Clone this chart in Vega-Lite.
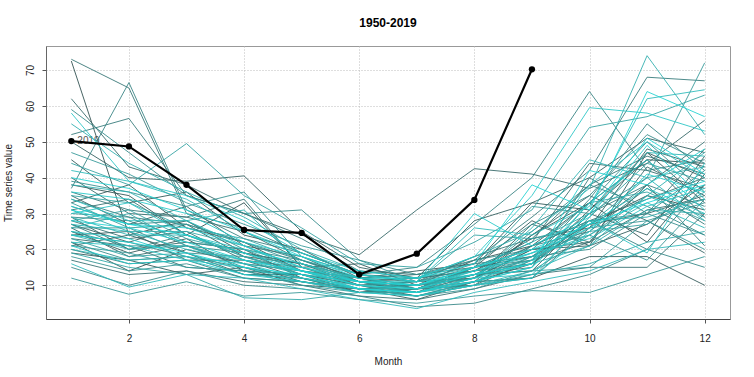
{
"$schema":"https://vega.github.io/schema/vega-lite/v6.json",
"width":684,"height":273,
"autosize":{"type":"none"},
"padding":{"left":46,"top":46,"right":24,"bottom":58},
"background":"white",
"config":{"font":"Liberation Sans","view":{"stroke":"#999","strokeWidth":1},
 "axis":{"grid":true,"gridColor":"#bdbdbd","gridDash":[1,2],"gridWidth":1,"tickColor":"#555","tickSize":4,"labelFont":"Liberation Sans","labelFontSize":10,"labelColor":"#222","titleFont":"Liberation Sans","titleFontSize":10,"titleFontWeight":"normal","titleColor":"#222","domainColor":"#555","labelFlush":false}},
"title":{"text":"1950-2019","fontSize":12,"fontWeight":"bold","font":"Liberation Sans","offset":16,"color":"#000"},
"datasets":{
"now":[{"yr":2019,"m":1,"v":50.2},{"yr":2019,"m":2,"v":48.7},{"yr":2019,"m":3,"v":38},{"yr":2019,"m":4,"v":25.4},{"yr":2019,"m":5,"v":24.6},{"yr":2019,"m":6,"v":13},{"yr":2019,"m":7,"v":18.8},{"yr":2019,"m":8,"v":33.8},{"yr":2019,"m":9,"v":70.2}],
"past":[
{"yr":1950,"m":1,"v":72.5},{"yr":1950,"m":2,"v":24},{"yr":1950,"m":3,"v":28},{"yr":1950,"m":4,"v":19},{"yr":1950,"m":5,"v":16},{"yr":1950,"m":6,"v":11},{"yr":1950,"m":7,"v":9},{"yr":1950,"m":8,"v":15},{"yr":1950,"m":9,"v":18},{"yr":1950,"m":10,"v":27},{"yr":1950,"m":11,"v":35},{"yr":1950,"m":12,"v":31},
{"yr":1951,"m":1,"v":22},{"yr":1951,"m":2,"v":14},{"yr":1951,"m":3,"v":20},{"yr":1951,"m":4,"v":16},{"yr":1951,"m":5,"v":11},{"yr":1951,"m":6,"v":9},{"yr":1951,"m":7,"v":10},{"yr":1951,"m":8,"v":12},{"yr":1951,"m":9,"v":24},{"yr":1951,"m":10,"v":33},{"yr":1951,"m":11,"v":22},{"yr":1951,"m":12,"v":41},
{"yr":1952,"m":1,"v":38},{"yr":1952,"m":2,"v":35},{"yr":1952,"m":3,"v":24},{"yr":1952,"m":4,"v":33},{"yr":1952,"m":5,"v":15},{"yr":1952,"m":6,"v":16},{"yr":1952,"m":7,"v":10},{"yr":1952,"m":8,"v":17},{"yr":1952,"m":9,"v":21},{"yr":1952,"m":10,"v":33},{"yr":1952,"m":11,"v":45},{"yr":1952,"m":12,"v":44},
{"yr":1953,"m":1,"v":25},{"yr":1953,"m":2,"v":19},{"yr":1953,"m":3,"v":23},{"yr":1953,"m":4,"v":14},{"yr":1953,"m":5,"v":13},{"yr":1953,"m":6,"v":8},{"yr":1953,"m":7,"v":9},{"yr":1953,"m":8,"v":11},{"yr":1953,"m":9,"v":16},{"yr":1953,"m":10,"v":31},{"yr":1953,"m":11,"v":45},{"yr":1953,"m":12,"v":29},
{"yr":1954,"m":1,"v":45},{"yr":1954,"m":2,"v":33},{"yr":1954,"m":3,"v":36},{"yr":1954,"m":4,"v":24},{"yr":1954,"m":5,"v":20},{"yr":1954,"m":6,"v":12},{"yr":1954,"m":7,"v":14},{"yr":1954,"m":8,"v":16},{"yr":1954,"m":9,"v":33},{"yr":1954,"m":10,"v":31},{"yr":1954,"m":11,"v":47},{"yr":1954,"m":12,"v":40},
{"yr":1955,"m":1,"v":19},{"yr":1955,"m":2,"v":17},{"yr":1955,"m":3,"v":13},{"yr":1955,"m":4,"v":15},{"yr":1955,"m":5,"v":10},{"yr":1955,"m":6,"v":9},{"yr":1955,"m":7,"v":6},{"yr":1955,"m":8,"v":11},{"yr":1955,"m":9,"v":12},{"yr":1955,"m":10,"v":18},{"yr":1955,"m":11,"v":18},{"yr":1955,"m":12,"v":10},
{"yr":1956,"m":1,"v":33},{"yr":1956,"m":2,"v":38},{"yr":1956,"m":3,"v":26},{"yr":1956,"m":4,"v":22},{"yr":1956,"m":5,"v":14},{"yr":1956,"m":6,"v":12},{"yr":1956,"m":7,"v":9},{"yr":1956,"m":8,"v":15},{"yr":1956,"m":9,"v":28},{"yr":1956,"m":10,"v":21},{"yr":1956,"m":11,"v":47},{"yr":1956,"m":12,"v":33},
{"yr":1957,"m":1,"v":27},{"yr":1957,"m":2,"v":22},{"yr":1957,"m":3,"v":27},{"yr":1957,"m":4,"v":18},{"yr":1957,"m":5,"v":16},{"yr":1957,"m":6,"v":10},{"yr":1957,"m":7,"v":11},{"yr":1957,"m":8,"v":12},{"yr":1957,"m":9,"v":20},{"yr":1957,"m":10,"v":21},{"yr":1957,"m":11,"v":27},{"yr":1957,"m":12,"v":38},
{"yr":1958,"m":1,"v":50},{"yr":1958,"m":2,"v":40},{"yr":1958,"m":3,"v":39},{"yr":1958,"m":4,"v":40.5},{"yr":1958,"m":5,"v":25},{"yr":1958,"m":6,"v":15},{"yr":1958,"m":7,"v":12},{"yr":1958,"m":8,"v":28},{"yr":1958,"m":9,"v":33},{"yr":1958,"m":10,"v":40},{"yr":1958,"m":11,"v":51},{"yr":1958,"m":12,"v":47},
{"yr":1959,"m":1,"v":24},{"yr":1959,"m":2,"v":25},{"yr":1959,"m":3,"v":17},{"yr":1959,"m":4,"v":17},{"yr":1959,"m":5,"v":12},{"yr":1959,"m":6,"v":8},{"yr":1959,"m":7,"v":9},{"yr":1959,"m":8,"v":13},{"yr":1959,"m":9,"v":14},{"yr":1959,"m":10,"v":30},{"yr":1959,"m":11,"v":24},{"yr":1959,"m":12,"v":46},
{"yr":1960,"m":1,"v":35},{"yr":1960,"m":2,"v":27},{"yr":1960,"m":3,"v":32},{"yr":1960,"m":4,"v":21},{"yr":1960,"m":5,"v":18},{"yr":1960,"m":6,"v":11},{"yr":1960,"m":7,"v":12},{"yr":1960,"m":8,"v":14},{"yr":1960,"m":9,"v":23},{"yr":1960,"m":10,"v":26},{"yr":1960,"m":11,"v":48},{"yr":1960,"m":12,"v":43},
{"yr":1961,"m":1,"v":21},{"yr":1961,"m":2,"v":24},{"yr":1961,"m":3,"v":19},{"yr":1961,"m":4,"v":13},{"yr":1961,"m":5,"v":13},{"yr":1961,"m":6,"v":10},{"yr":1961,"m":7,"v":7},{"yr":1961,"m":8,"v":11},{"yr":1961,"m":9,"v":24},{"yr":1961,"m":10,"v":35},{"yr":1961,"m":11,"v":28},{"yr":1961,"m":12,"v":19},
{"yr":1962,"m":1,"v":29},{"yr":1962,"m":2,"v":20},{"yr":1962,"m":3,"v":22},{"yr":1962,"m":4,"v":20},{"yr":1962,"m":5,"v":12},{"yr":1962,"m":6,"v":9},{"yr":1962,"m":7,"v":10},{"yr":1962,"m":8,"v":14},{"yr":1962,"m":9,"v":16},{"yr":1962,"m":10,"v":27},{"yr":1962,"m":11,"v":30},{"yr":1962,"m":12,"v":35},
{"yr":1963,"m":1,"v":62},{"yr":1963,"m":2,"v":43},{"yr":1963,"m":3,"v":38},{"yr":1963,"m":4,"v":30},{"yr":1963,"m":5,"v":24},{"yr":1963,"m":6,"v":18.5},{"yr":1963,"m":7,"v":31},{"yr":1963,"m":8,"v":42.5},{"yr":1963,"m":9,"v":41},{"yr":1963,"m":10,"v":37},{"yr":1963,"m":11,"v":44},{"yr":1963,"m":12,"v":56},
{"yr":1964,"m":1,"v":26},{"yr":1964,"m":2,"v":18},{"yr":1964,"m":3,"v":21},{"yr":1964,"m":4,"v":16},{"yr":1964,"m":5,"v":14},{"yr":1964,"m":6,"v":11},{"yr":1964,"m":7,"v":8},{"yr":1964,"m":8,"v":12},{"yr":1964,"m":9,"v":27},{"yr":1964,"m":10,"v":22},{"yr":1964,"m":11,"v":43},{"yr":1964,"m":12,"v":35},
{"yr":1965,"m":1,"v":40},{"yr":1965,"m":2,"v":30},{"yr":1965,"m":3,"v":29},{"yr":1965,"m":4,"v":25},{"yr":1965,"m":5,"v":17},{"yr":1965,"m":6,"v":12},{"yr":1965,"m":7,"v":13},{"yr":1965,"m":8,"v":15},{"yr":1965,"m":9,"v":22},{"yr":1965,"m":10,"v":44},{"yr":1965,"m":11,"v":42},{"yr":1965,"m":12,"v":37},
{"yr":1966,"m":1,"v":23},{"yr":1966,"m":2,"v":21},{"yr":1966,"m":3,"v":15},{"yr":1966,"m":4,"v":14},{"yr":1966,"m":5,"v":11},{"yr":1966,"m":6,"v":8},{"yr":1966,"m":7,"v":9},{"yr":1966,"m":8,"v":10},{"yr":1966,"m":9,"v":17},{"yr":1966,"m":10,"v":22},{"yr":1966,"m":11,"v":38},{"yr":1966,"m":12,"v":50},
{"yr":1967,"m":1,"v":31},{"yr":1967,"m":2,"v":34},{"yr":1967,"m":3,"v":24},{"yr":1967,"m":4,"v":19},{"yr":1967,"m":5,"v":16},{"yr":1967,"m":6,"v":12},{"yr":1967,"m":7,"v":9},{"yr":1967,"m":8,"v":13},{"yr":1967,"m":9,"v":16},{"yr":1967,"m":10,"v":28},{"yr":1967,"m":11,"v":34},{"yr":1967,"m":12,"v":40},
{"yr":1968,"m":1,"v":17},{"yr":1968,"m":2,"v":13},{"yr":1968,"m":3,"v":14},{"yr":1968,"m":4,"v":11},{"yr":1968,"m":5,"v":10},{"yr":1968,"m":6,"v":7},{"yr":1968,"m":7,"v":6},{"yr":1968,"m":8,"v":9},{"yr":1968,"m":9,"v":13},{"yr":1968,"m":10,"v":15},{"yr":1968,"m":11,"v":15},{"yr":1968,"m":12,"v":30},
{"yr":1969,"m":1,"v":28},{"yr":1969,"m":2,"v":23},{"yr":1969,"m":3,"v":25},{"yr":1969,"m":4,"v":17},{"yr":1969,"m":5,"v":15},{"yr":1969,"m":6,"v":10},{"yr":1969,"m":7,"v":10},{"yr":1969,"m":8,"v":12},{"yr":1969,"m":9,"v":20},{"yr":1969,"m":10,"v":22},{"yr":1969,"m":11,"v":31},{"yr":1969,"m":12,"v":34},
{"yr":1970,"m":1,"v":73},{"yr":1970,"m":2,"v":65},{"yr":1970,"m":3,"v":30},{"yr":1970,"m":4,"v":26},{"yr":1970,"m":5,"v":19},{"yr":1970,"m":6,"v":13},{"yr":1970,"m":7,"v":11},{"yr":1970,"m":8,"v":18},{"yr":1970,"m":9,"v":23},{"yr":1970,"m":10,"v":38},{"yr":1970,"m":11,"v":46},{"yr":1970,"m":12,"v":41},
{"yr":1971,"m":1,"v":36},{"yr":1971,"m":2,"v":31},{"yr":1971,"m":3,"v":29},{"yr":1971,"m":4,"v":34},{"yr":1971,"m":5,"v":15},{"yr":1971,"m":6,"v":11},{"yr":1971,"m":7,"v":12},{"yr":1971,"m":8,"v":14},{"yr":1971,"m":9,"v":21},{"yr":1971,"m":10,"v":25},{"yr":1971,"m":11,"v":37},{"yr":1971,"m":12,"v":27},
{"yr":1972,"m":1,"v":20},{"yr":1972,"m":2,"v":16},{"yr":1972,"m":3,"v":17},{"yr":1972,"m":4,"v":12},{"yr":1972,"m":5,"v":11},{"yr":1972,"m":6,"v":9},{"yr":1972,"m":7,"v":7},{"yr":1972,"m":8,"v":10},{"yr":1972,"m":9,"v":12},{"yr":1972,"m":10,"v":26},{"yr":1972,"m":11,"v":38},{"yr":1972,"m":12,"v":21},
{"yr":1973,"m":1,"v":52},{"yr":1973,"m":2,"v":56.5},{"yr":1973,"m":3,"v":35},{"yr":1973,"m":4,"v":30},{"yr":1973,"m":5,"v":23},{"yr":1973,"m":6,"v":14},{"yr":1973,"m":7,"v":13},{"yr":1973,"m":8,"v":17},{"yr":1973,"m":9,"v":29},{"yr":1973,"m":10,"v":42},{"yr":1973,"m":11,"v":68},{"yr":1973,"m":12,"v":67},
{"yr":1974,"m":1,"v":27},{"yr":1974,"m":2,"v":20},{"yr":1974,"m":3,"v":24},{"yr":1974,"m":4,"v":18},{"yr":1974,"m":5,"v":13},{"yr":1974,"m":6,"v":10},{"yr":1974,"m":7,"v":8},{"yr":1974,"m":8,"v":13},{"yr":1974,"m":9,"v":15},{"yr":1974,"m":10,"v":40},{"yr":1974,"m":11,"v":30},{"yr":1974,"m":12,"v":48},
{"yr":1975,"m":1,"v":34},{"yr":1975,"m":2,"v":29},{"yr":1975,"m":3,"v":27},{"yr":1975,"m":4,"v":22},{"yr":1975,"m":5,"v":17},{"yr":1975,"m":6,"v":12},{"yr":1975,"m":7,"v":11},{"yr":1975,"m":8,"v":16},{"yr":1975,"m":9,"v":18},{"yr":1975,"m":10,"v":30},{"yr":1975,"m":11,"v":38},{"yr":1975,"m":12,"v":32},
{"yr":1976,"m":1,"v":24},{"yr":1976,"m":2,"v":22},{"yr":1976,"m":3,"v":18},{"yr":1976,"m":4,"v":15},{"yr":1976,"m":5,"v":12},{"yr":1976,"m":6,"v":9},{"yr":1976,"m":7,"v":9},{"yr":1976,"m":8,"v":10},{"yr":1976,"m":9,"v":21},{"yr":1976,"m":10,"v":28},{"yr":1976,"m":11,"v":20},{"yr":1976,"m":12,"v":38},
{"yr":1977,"m":1,"v":37},{"yr":1977,"m":2,"v":66.5},{"yr":1977,"m":3,"v":31},{"yr":1977,"m":4,"v":23},{"yr":1977,"m":5,"v":19},{"yr":1977,"m":6,"v":13},{"yr":1977,"m":7,"v":15},{"yr":1977,"m":8,"v":27},{"yr":1977,"m":9,"v":40},{"yr":1977,"m":10,"v":64},{"yr":1977,"m":11,"v":42},{"yr":1977,"m":12,"v":45},
{"yr":1978,"m":1,"v":29},{"yr":1978,"m":2,"v":28},{"yr":1978,"m":3,"v":21},{"yr":1978,"m":4,"v":19},{"yr":1978,"m":5,"v":13},{"yr":1978,"m":6,"v":11},{"yr":1978,"m":7,"v":8},{"yr":1978,"m":8,"v":15},{"yr":1978,"m":9,"v":17},{"yr":1978,"m":10,"v":34},{"yr":1978,"m":11,"v":55},{"yr":1978,"m":12,"v":42},
{"yr":1979,"m":1,"v":15},{"yr":1979,"m":2,"v":10},{"yr":1979,"m":3,"v":14},{"yr":1979,"m":4,"v":10},{"yr":1979,"m":5,"v":9},{"yr":1979,"m":6,"v":7},{"yr":1979,"m":7,"v":4},{"yr":1979,"m":8,"v":5},{"yr":1979,"m":9,"v":9},{"yr":1979,"m":10,"v":13},{"yr":1979,"m":11,"v":20},{"yr":1979,"m":12,"v":15},
{"yr":1980,"m":1,"v":32},{"yr":1980,"m":2,"v":27},{"yr":1980,"m":3,"v":28},{"yr":1980,"m":4,"v":20},{"yr":1980,"m":5,"v":17},{"yr":1980,"m":6,"v":11},{"yr":1980,"m":7,"v":10},{"yr":1980,"m":8,"v":13},{"yr":1980,"m":9,"v":21},{"yr":1980,"m":10,"v":28},{"yr":1980,"m":11,"v":30},{"yr":1980,"m":12,"v":42},
{"yr":1981,"m":1,"v":59},{"yr":1981,"m":2,"v":47},{"yr":1981,"m":3,"v":35},{"yr":1981,"m":4,"v":30},{"yr":1981,"m":5,"v":31},{"yr":1981,"m":6,"v":17},{"yr":1981,"m":7,"v":13},{"yr":1981,"m":8,"v":16},{"yr":1981,"m":9,"v":27},{"yr":1981,"m":10,"v":35},{"yr":1981,"m":11,"v":52},{"yr":1981,"m":12,"v":44},
{"yr":1982,"m":1,"v":22},{"yr":1982,"m":2,"v":17},{"yr":1982,"m":3,"v":18},{"yr":1982,"m":4,"v":13},{"yr":1982,"m":5,"v":12},{"yr":1982,"m":6,"v":8},{"yr":1982,"m":7,"v":9},{"yr":1982,"m":8,"v":12},{"yr":1982,"m":9,"v":25},{"yr":1982,"m":10,"v":38},{"yr":1982,"m":11,"v":32},{"yr":1982,"m":12,"v":24},
{"yr":1983,"m":1,"v":26},{"yr":1983,"m":2,"v":26},{"yr":1983,"m":3,"v":19},{"yr":1983,"m":4,"v":18},{"yr":1983,"m":5,"v":14},{"yr":1983,"m":6,"v":10},{"yr":1983,"m":7,"v":8},{"yr":1983,"m":8,"v":11},{"yr":1983,"m":9,"v":18},{"yr":1983,"m":10,"v":20},{"yr":1983,"m":11,"v":30},{"yr":1983,"m":12,"v":24},
{"yr":1984,"m":1,"v":39},{"yr":1984,"m":2,"v":36},{"yr":1984,"m":3,"v":32},{"yr":1984,"m":4,"v":36},{"yr":1984,"m":5,"v":18},{"yr":1984,"m":6,"v":13},{"yr":1984,"m":7,"v":12},{"yr":1984,"m":8,"v":17},{"yr":1984,"m":9,"v":20},{"yr":1984,"m":10,"v":33},{"yr":1984,"m":11,"v":50},{"yr":1984,"m":12,"v":36},
{"yr":1985,"m":1,"v":18},{"yr":1985,"m":2,"v":14},{"yr":1985,"m":3,"v":16},{"yr":1985,"m":4,"v":12},{"yr":1985,"m":5,"v":11},{"yr":1985,"m":6,"v":9},{"yr":1985,"m":7,"v":7},{"yr":1985,"m":8,"v":9},{"yr":1985,"m":9,"v":14},{"yr":1985,"m":10,"v":24},{"yr":1985,"m":11,"v":17},{"yr":1985,"m":12,"v":34},
{"yr":1986,"m":1,"v":30},{"yr":1986,"m":2,"v":29},{"yr":1986,"m":3,"v":22},{"yr":1986,"m":4,"v":20},{"yr":1986,"m":5,"v":14},{"yr":1986,"m":6,"v":10},{"yr":1986,"m":7,"v":11},{"yr":1986,"m":8,"v":14},{"yr":1986,"m":9,"v":17},{"yr":1986,"m":10,"v":26},{"yr":1986,"m":11,"v":28},{"yr":1986,"m":12,"v":33},
{"yr":1987,"m":1,"v":12},{"yr":1987,"m":2,"v":7.5},{"yr":1987,"m":3,"v":11},{"yr":1987,"m":4,"v":7},{"yr":1987,"m":5,"v":8},{"yr":1987,"m":6,"v":6},{"yr":1987,"m":7,"v":5},{"yr":1987,"m":8,"v":7},{"yr":1987,"m":9,"v":8.5},{"yr":1987,"m":10,"v":8},{"yr":1987,"m":11,"v":13},{"yr":1987,"m":12,"v":18},
{"yr":1988,"m":1,"v":47},{"yr":1988,"m":2,"v":41},{"yr":1988,"m":3,"v":33},{"yr":1988,"m":4,"v":27},{"yr":1988,"m":5,"v":21},{"yr":1988,"m":6,"v":17},{"yr":1988,"m":7,"v":11},{"yr":1988,"m":8,"v":15},{"yr":1988,"m":9,"v":32},{"yr":1988,"m":10,"v":30},{"yr":1988,"m":11,"v":40},{"yr":1988,"m":12,"v":72},
{"yr":1989,"m":1,"v":25},{"yr":1989,"m":2,"v":21},{"yr":1989,"m":3,"v":21},{"yr":1989,"m":4,"v":15},{"yr":1989,"m":5,"v":12},{"yr":1989,"m":6,"v":9},{"yr":1989,"m":7,"v":10},{"yr":1989,"m":8,"v":13},{"yr":1989,"m":9,"v":14},{"yr":1989,"m":10,"v":15},{"yr":1989,"m":11,"v":28},{"yr":1989,"m":12,"v":20},
{"yr":1990,"m":1,"v":33},{"yr":1990,"m":2,"v":26},{"yr":1990,"m":3,"v":27},{"yr":1990,"m":4,"v":22},{"yr":1990,"m":5,"v":16},{"yr":1990,"m":6,"v":12},{"yr":1990,"m":7,"v":9},{"yr":1990,"m":8,"v":15},{"yr":1990,"m":9,"v":20},{"yr":1990,"m":10,"v":24},{"yr":1990,"m":11,"v":35},{"yr":1990,"m":12,"v":28},
{"yr":1991,"m":1,"v":21},{"yr":1991,"m":2,"v":19},{"yr":1991,"m":3,"v":15},{"yr":1991,"m":4,"v":14},{"yr":1991,"m":5,"v":10},{"yr":1991,"m":6,"v":8},{"yr":1991,"m":7,"v":8},{"yr":1991,"m":8,"v":11},{"yr":1991,"m":9,"v":12},{"yr":1991,"m":10,"v":29},{"yr":1991,"m":11,"v":44},{"yr":1991,"m":12,"v":39},
{"yr":1992,"m":1,"v":28},{"yr":1992,"m":2,"v":31},{"yr":1992,"m":3,"v":23},{"yr":1992,"m":4,"v":19},{"yr":1992,"m":5,"v":15},{"yr":1992,"m":6,"v":11},{"yr":1992,"m":7,"v":10},{"yr":1992,"m":8,"v":12},{"yr":1992,"m":9,"v":18},{"yr":1992,"m":10,"v":25},{"yr":1992,"m":11,"v":27},{"yr":1992,"m":12,"v":36},
{"yr":1993,"m":1,"v":44},{"yr":1993,"m":2,"v":38},{"yr":1993,"m":3,"v":49.5},{"yr":1993,"m":4,"v":35},{"yr":1993,"m":5,"v":26},{"yr":1993,"m":6,"v":16},{"yr":1993,"m":7,"v":15},{"yr":1993,"m":8,"v":22},{"yr":1993,"m":9,"v":31},{"yr":1993,"m":10,"v":54},{"yr":1993,"m":11,"v":57},{"yr":1993,"m":12,"v":63},
{"yr":1994,"m":1,"v":23},{"yr":1994,"m":2,"v":18},{"yr":1994,"m":3,"v":19},{"yr":1994,"m":4,"v":14},{"yr":1994,"m":5,"v":13},{"yr":1994,"m":6,"v":9},{"yr":1994,"m":7,"v":7},{"yr":1994,"m":8,"v":11},{"yr":1994,"m":9,"v":15},{"yr":1994,"m":10,"v":33},{"yr":1994,"m":11,"v":36},{"yr":1994,"m":12,"v":29},
{"yr":1995,"m":1,"v":35},{"yr":1995,"m":2,"v":33},{"yr":1995,"m":3,"v":26},{"yr":1995,"m":4,"v":23},{"yr":1995,"m":5,"v":17},{"yr":1995,"m":6,"v":13},{"yr":1995,"m":7,"v":11},{"yr":1995,"m":8,"v":24},{"yr":1995,"m":9,"v":23},{"yr":1995,"m":10,"v":27},{"yr":1995,"m":11,"v":40},{"yr":1995,"m":12,"v":43},
{"yr":1996,"m":1,"v":19},{"yr":1996,"m":2,"v":15},{"yr":1996,"m":3,"v":13},{"yr":1996,"m":4,"v":6.5},{"yr":1996,"m":5,"v":6},{"yr":1996,"m":6,"v":8},{"yr":1996,"m":7,"v":7},{"yr":1996,"m":8,"v":10},{"yr":1996,"m":9,"v":13},{"yr":1996,"m":10,"v":16},{"yr":1996,"m":11,"v":22},{"yr":1996,"m":12,"v":25},
{"yr":1997,"m":1,"v":31},{"yr":1997,"m":2,"v":25},{"yr":1997,"m":3,"v":25},{"yr":1997,"m":4,"v":21},{"yr":1997,"m":5,"v":14},{"yr":1997,"m":6,"v":12},{"yr":1997,"m":7,"v":10},{"yr":1997,"m":8,"v":13},{"yr":1997,"m":9,"v":17},{"yr":1997,"m":10,"v":28},{"yr":1997,"m":11,"v":29},{"yr":1997,"m":12,"v":34},
{"yr":1998,"m":1,"v":26},{"yr":1998,"m":2,"v":30},{"yr":1998,"m":3,"v":21},{"yr":1998,"m":4,"v":17},{"yr":1998,"m":5,"v":13},{"yr":1998,"m":6,"v":9},{"yr":1998,"m":7,"v":9},{"yr":1998,"m":8,"v":13},{"yr":1998,"m":9,"v":16},{"yr":1998,"m":10,"v":21},{"yr":1998,"m":11,"v":31},{"yr":1998,"m":12,"v":30},
{"yr":1999,"m":1,"v":55},{"yr":1999,"m":2,"v":44},{"yr":1999,"m":3,"v":36},{"yr":1999,"m":4,"v":29},{"yr":1999,"m":5,"v":20},{"yr":1999,"m":6,"v":14},{"yr":1999,"m":7,"v":12},{"yr":1999,"m":8,"v":18},{"yr":1999,"m":9,"v":25},{"yr":1999,"m":10,"v":37},{"yr":1999,"m":11,"v":74},{"yr":1999,"m":12,"v":52},
{"yr":2000,"m":1,"v":20},{"yr":2000,"m":2,"v":17},{"yr":2000,"m":3,"v":18},{"yr":2000,"m":4,"v":13},{"yr":2000,"m":5,"v":12},{"yr":2000,"m":6,"v":10},{"yr":2000,"m":7,"v":8},{"yr":2000,"m":8,"v":10},{"yr":2000,"m":9,"v":14},{"yr":2000,"m":10,"v":21},{"yr":2000,"m":11,"v":35},{"yr":2000,"m":12,"v":47},
{"yr":2001,"m":1,"v":38},{"yr":2001,"m":2,"v":36},{"yr":2001,"m":3,"v":28},{"yr":2001,"m":4,"v":31},{"yr":2001,"m":5,"v":16},{"yr":2001,"m":6,"v":12},{"yr":2001,"m":7,"v":12},{"yr":2001,"m":8,"v":15},{"yr":2001,"m":9,"v":22},{"yr":2001,"m":10,"v":30},{"yr":2001,"m":11,"v":47},{"yr":2001,"m":12,"v":46},
{"yr":2002,"m":1,"v":24},{"yr":2002,"m":2,"v":20},{"yr":2002,"m":3,"v":21},{"yr":2002,"m":4,"v":16},{"yr":2002,"m":5,"v":14},{"yr":2002,"m":6,"v":9},{"yr":2002,"m":7,"v":8},{"yr":2002,"m":8,"v":12},{"yr":2002,"m":9,"v":26},{"yr":2002,"m":10,"v":45},{"yr":2002,"m":11,"v":40},{"yr":2002,"m":12,"v":28},
{"yr":2003,"m":1,"v":29},{"yr":2003,"m":2,"v":24},{"yr":2003,"m":3,"v":24},{"yr":2003,"m":4,"v":18},{"yr":2003,"m":5,"v":13},{"yr":2003,"m":6,"v":11},{"yr":2003,"m":7,"v":9},{"yr":2003,"m":8,"v":14},{"yr":2003,"m":9,"v":18},{"yr":2003,"m":10,"v":24},{"yr":2003,"m":11,"v":33},{"yr":2003,"m":12,"v":26},
{"yr":2004,"m":1,"v":16},{"yr":2004,"m":2,"v":9.5},{"yr":2004,"m":3,"v":13},{"yr":2004,"m":4,"v":12},{"yr":2004,"m":5,"v":9},{"yr":2004,"m":6,"v":6},{"yr":2004,"m":7,"v":3.5},{"yr":2004,"m":8,"v":8},{"yr":2004,"m":9,"v":11},{"yr":2004,"m":10,"v":14},{"yr":2004,"m":11,"v":20},{"yr":2004,"m":12,"v":22},
{"yr":2005,"m":1,"v":42},{"yr":2005,"m":2,"v":39},{"yr":2005,"m":3,"v":34},{"yr":2005,"m":4,"v":25},{"yr":2005,"m":5,"v":19},{"yr":2005,"m":6,"v":13},{"yr":2005,"m":7,"v":11},{"yr":2005,"m":8,"v":26},{"yr":2005,"m":9,"v":24},{"yr":2005,"m":10,"v":32},{"yr":2005,"m":11,"v":62},{"yr":2005,"m":12,"v":64.5},
{"yr":2006,"m":1,"v":27},{"yr":2006,"m":2,"v":25},{"yr":2006,"m":3,"v":20},{"yr":2006,"m":4,"v":17},{"yr":2006,"m":5,"v":14},{"yr":2006,"m":6,"v":10},{"yr":2006,"m":7,"v":9},{"yr":2006,"m":8,"v":11},{"yr":2006,"m":9,"v":17},{"yr":2006,"m":10,"v":38},{"yr":2006,"m":11,"v":50},{"yr":2006,"m":12,"v":40},
{"yr":2007,"m":1,"v":34},{"yr":2007,"m":2,"v":28},{"yr":2007,"m":3,"v":28},{"yr":2007,"m":4,"v":21},{"yr":2007,"m":5,"v":15},{"yr":2007,"m":6,"v":12},{"yr":2007,"m":7,"v":10},{"yr":2007,"m":8,"v":15},{"yr":2007,"m":9,"v":19},{"yr":2007,"m":10,"v":27},{"yr":2007,"m":11,"v":37},{"yr":2007,"m":12,"v":30},
{"yr":2008,"m":1,"v":22},{"yr":2008,"m":2,"v":21},{"yr":2008,"m":3,"v":17},{"yr":2008,"m":4,"v":15},{"yr":2008,"m":5,"v":11},{"yr":2008,"m":6,"v":9},{"yr":2008,"m":7,"v":8},{"yr":2008,"m":8,"v":12},{"yr":2008,"m":9,"v":13},{"yr":2008,"m":10,"v":28},{"yr":2008,"m":11,"v":19},{"yr":2008,"m":12,"v":44},
{"yr":2009,"m":1,"v":30},{"yr":2009,"m":2,"v":33},{"yr":2009,"m":3,"v":24},{"yr":2009,"m":4,"v":20},{"yr":2009,"m":5,"v":16},{"yr":2009,"m":6,"v":11},{"yr":2009,"m":7,"v":11},{"yr":2009,"m":8,"v":13},{"yr":2009,"m":9,"v":19},{"yr":2009,"m":10,"v":23},{"yr":2009,"m":11,"v":32},{"yr":2009,"m":12,"v":37},
{"yr":2010,"m":1,"v":58},{"yr":2010,"m":2,"v":39},{"yr":2010,"m":3,"v":35},{"yr":2010,"m":4,"v":28},{"yr":2010,"m":5,"v":19},{"yr":2010,"m":6,"v":14},{"yr":2010,"m":7,"v":12},{"yr":2010,"m":8,"v":18},{"yr":2010,"m":9,"v":35},{"yr":2010,"m":10,"v":59.5},{"yr":2010,"m":11,"v":58},{"yr":2010,"m":12,"v":53},
{"yr":2011,"m":1,"v":25},{"yr":2011,"m":2,"v":23},{"yr":2011,"m":3,"v":18},{"yr":2011,"m":4,"v":16},{"yr":2011,"m":5,"v":12},{"yr":2011,"m":6,"v":9},{"yr":2011,"m":7,"v":8},{"yr":2011,"m":8,"v":12},{"yr":2011,"m":9,"v":16},{"yr":2011,"m":10,"v":33},{"yr":2011,"m":11,"v":45},{"yr":2011,"m":12,"v":31},
{"yr":2012,"m":1,"v":36},{"yr":2012,"m":2,"v":34},{"yr":2012,"m":3,"v":30},{"yr":2012,"m":4,"v":22},{"yr":2012,"m":5,"v":18},{"yr":2012,"m":6,"v":13},{"yr":2012,"m":7,"v":11},{"yr":2012,"m":8,"v":30},{"yr":2012,"m":9,"v":21},{"yr":2012,"m":10,"v":29},{"yr":2012,"m":11,"v":49},{"yr":2012,"m":12,"v":34},
{"yr":2013,"m":1,"v":21},{"yr":2013,"m":2,"v":16},{"yr":2013,"m":3,"v":17},{"yr":2013,"m":4,"v":13},{"yr":2013,"m":5,"v":11},{"yr":2013,"m":6,"v":8},{"yr":2013,"m":7,"v":7},{"yr":2013,"m":8,"v":10},{"yr":2013,"m":9,"v":12},{"yr":2013,"m":10,"v":25},{"yr":2013,"m":11,"v":41},{"yr":2013,"m":12,"v":36},
{"yr":2014,"m":1,"v":32},{"yr":2014,"m":2,"v":27},{"yr":2014,"m":3,"v":26},{"yr":2014,"m":4,"v":21},{"yr":2014,"m":5,"v":15},{"yr":2014,"m":6,"v":11},{"yr":2014,"m":7,"v":10},{"yr":2014,"m":8,"v":14},{"yr":2014,"m":9,"v":19},{"yr":2014,"m":10,"v":26},{"yr":2014,"m":11,"v":34},{"yr":2014,"m":12,"v":39},
{"yr":2015,"m":1,"v":28},{"yr":2015,"m":2,"v":26},{"yr":2015,"m":3,"v":22},{"yr":2015,"m":4,"v":17},{"yr":2015,"m":5,"v":14},{"yr":2015,"m":6,"v":10},{"yr":2015,"m":7,"v":9},{"yr":2015,"m":8,"v":13},{"yr":2015,"m":9,"v":16},{"yr":2015,"m":10,"v":42},{"yr":2015,"m":11,"v":38},{"yr":2015,"m":12,"v":48},
{"yr":2016,"m":1,"v":40},{"yr":2016,"m":2,"v":37},{"yr":2016,"m":3,"v":31},{"yr":2016,"m":4,"v":25},{"yr":2016,"m":5,"v":18},{"yr":2016,"m":6,"v":12},{"yr":2016,"m":7,"v":12},{"yr":2016,"m":8,"v":16},{"yr":2016,"m":9,"v":38},{"yr":2016,"m":10,"v":31},{"yr":2016,"m":11,"v":64},{"yr":2016,"m":12,"v":57},
{"yr":2017,"m":1,"v":24},{"yr":2017,"m":2,"v":22},{"yr":2017,"m":3,"v":19},{"yr":2017,"m":4,"v":15},{"yr":2017,"m":5,"v":13},{"yr":2017,"m":6,"v":9},{"yr":2017,"m":7,"v":8},{"yr":2017,"m":8,"v":11},{"yr":2017,"m":9,"v":15},{"yr":2017,"m":10,"v":30},{"yr":2017,"m":11,"v":51},{"yr":2017,"m":12,"v":41},
{"yr":2018,"m":1,"v":31},{"yr":2018,"m":2,"v":27},{"yr":2018,"m":3,"v":24},{"yr":2018,"m":4,"v":19},{"yr":2018,"m":5,"v":14},{"yr":2018,"m":6,"v":11},{"yr":2018,"m":7,"v":10},{"yr":2018,"m":8,"v":15},{"yr":2018,"m":9,"v":20},{"yr":2018,"m":10,"v":27},{"yr":2018,"m":11,"v":33},{"yr":2018,"m":12,"v":38}
]},
"encoding":{
 "x":{"field":"m","type":"quantitative","scale":{"domain":[0.56,12.44],"nice":false,"zero":false},"axis":{"values":[2,4,6,8,10,12],"title":"Month","labelPadding":10,"titleY":42,"titleBaseline":"middle","domainColor":"#444"}},
 "y":{"field":"v","type":"quantitative","scale":{"domain":[0.6,76.7],"nice":false,"zero":false},"axis":{"values":[10,20,30,40,50,60,70],"title":"Time series value","labelAngle":270,"labelAlign":"center","labelBaseline":"middle","labelPadding":12,"titleX":-38,"titleBaseline":"middle","domainColor":"#666"}}
},
"layer":[
 {"data":{"name":"now"},"transform":[{"filter":"datum.m == 1"}],"mark":{"type":"text","align":"left","baseline":"middle","dx":6,"fontSize":10,"color":"#555"},"encoding":{"text":{"value":"2019"}}},
 {"data":{"name":"past"},"mark":{"type":"line","strokeWidth":1,"opacity":0.88},"encoding":{"detail":{"field":"yr","type":"nominal"},"color":{"field":"yr","type":"quantitative","scale":{"range":["#2f4f4f","#1fd6d6"]},"legend":null}}},
 {"data":{"name":"now"},"mark":{"type":"line","color":"#000","strokeWidth":2.2},"encoding":{}},
 {"data":{"name":"now"},"mark":{"type":"point","filled":true,"color":"#000","size":40,"opacity":1},"encoding":{}}
]
}
